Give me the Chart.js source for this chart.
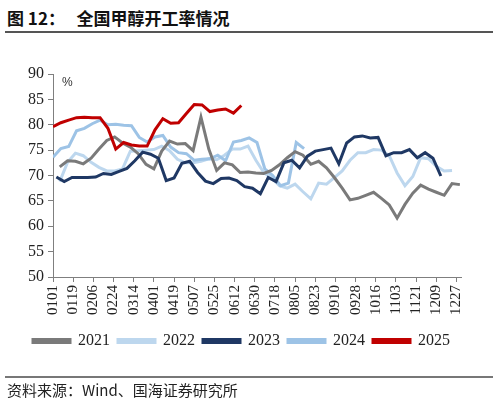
<!DOCTYPE html>
<html>
<head>
<meta charset="utf-8">
<script src="https://cdn.jsdelivr.net/npm/chart.js@4/dist/chart.umd.min.js"></script>
<style>
  body { margin: 0; width: 499px; height: 403px; background: #fff; position: relative; overflow: hidden; }
  #title { position: absolute; left: 7px; top: 5px; font: bold 17px 'Noto Sans CJK SC', sans-serif; color: #111; white-space: pre; }
  .rule { position: absolute; left: 5px; width: 488px; height: 1.5px; background: #555; }
  #source { position: absolute; left: 7px; top: 379px; font: 15px 'Noto Sans CJK SC', sans-serif; color: #222; }
  #unit { position: absolute; left: 62px; top: 75px; font: 12px 'Liberation Sans', sans-serif; color: #333; }
  #wrap { position: absolute; left: 0; top: 0; width: 499px; height: 403px; }
</style>
</head>
<body>
<div id="title">图 12：   全国甲醇开工率情况</div>
<div class="rule" style="top:31px"></div>
<div id="wrap"><canvas id="rateChart"></canvas></div>
<div id="unit">%</div>
<div class="rule" style="top:376px;background:#777"></div>
<div id="source">资料来源：Wind、国海证券研究所</div>
<script>
// x轴刻度 (日序, 0 = 0101)
const tickDays = [0, 18, 36, 54, 72, 90, 108, 126, 144, 162, 180, 198, 216, 234, 252, 270, 288, 306, 324, 342, 360]
const tickLabels = ['0101', '0119', '0206', '0224', '0314', '0401', '0419', '0507', '0525', '0612', '0630',
	'0718', '0805', '0823', '0910', '0928', '1016', '1103', '1121', '1209', '1227']

// 每周数据, 第一周的日序
const years = ['2021', '2022', '2023', '2024', '2025']
const firstDay = [6, 6, 3, 0, 0]

const rate2021 = [71.7, 72.9, 72.8, 72.3, 73.4, 75.2, 76.9, 77.6, 76.4, 75.6, 74.3, 72.2, 71.3, 74.8, 76.8, 76.2,
	76.3, 74.9, 81.5, 75.2, 71.0, 72.5, 72.1, 70.6, 70.7, 70.5, 70.4, 71.0, 72.1, 73.5, 74.7, 74.0, 72.2, 72.8,
	71.5, 69.6, 67.5, 65.2, 65.5, 66.1, 66.7, 65.5, 64.2, 61.6, 64.3, 66.5, 68.1, 67.3, 66.7, 66.1, 68.4, 68.2]
const rate2022 = [68.8, 72.6, 74.4, 73.9, 72.6, 71.6, 70.9, 70.9, 71.3, 74.8, 74.9, 75.0, 75.1, 75.8, 74.9, 73.2,
	72.5, 72.5, 72.8, 73.3, 73.1, 74.0, 75.2, 75.2, 75.8, 73.0, 70.6, 69.5, 68.0, 67.5, 68.3, 66.8, 65.4, 68.5,
	68.3, 69.6, 70.9, 73.0, 74.5, 74.5, 75.1, 75.0, 73.9, 70.5, 68.0, 69.8, 73.5, 73.3, 71.8, 70.9, 71.0]
const rate2023 = [69.7, 68.8, 69.6, 69.6, 69.6, 69.7, 70.4, 70.2, 70.8, 71.4, 72.9, 74.6, 74.2, 73.4, 69.0, 69.5,
	72.4, 72.8, 70.6, 68.9, 68.4, 69.4, 69.5, 69.0, 67.8, 67.5, 66.4, 69.6, 68.8, 72.5, 73.0, 71.5, 73.8, 74.8,
	75.1, 75.4, 72.3, 76.4, 77.6, 77.8, 77.4, 77.5, 73.9, 74.5, 74.5, 75.1, 73.5, 74.5, 73.4, 69.9]
const rate2024 = [73.6, 75.3, 75.7, 78.8, 79.3, 80.2, 80.9, 80.0, 80.1, 79.9, 79.8, 77.5, 76.6, 77.6, 77.9, 75.6,
	74.5, 74.3, 73.0, 73.2, 73.3, 74.0, 72.9, 76.6, 76.9, 77.4, 76.5, 71.3, 70.0, 68.0, 68.5, 76.5, 75.3]
const rate2025 = [79.6, 80.4, 80.9, 81.4, 81.5, 81.4, 81.4, 79.3, 75.2, 76.5, 76.0, 75.8, 75.8, 79.0, 81.2, 80.3,
	80.4, 82.2, 84.0, 83.9, 82.6, 82.9, 83.1, 82.3, 83.8]

const colors = ['#7a7a7a', '#bdd7ee', '#1f3864', '#9dc3e6', '#c00000']
const drawOrder = [2, 4, 1, 3, 0]

const allRates = [rate2021, rate2022, rate2023, rate2024, rate2025]
const toPoints = (vals, start) => vals.map((v, i) => ({ x: start + 7 * i, y: v }))

const ctx = document.getElementById('rateChart').getContext('2d')
const myChart = new Chart(ctx, {
	type: 'line',
	data: {
		datasets: years.map((y, k) => ({
			label: y,
			data: toPoints(allRates[k], firstDay[k]),
			borderColor: colors[k],
			backgroundColor: colors[k],
			borderWidth: 3,
			pointRadius: 0,
			tension: 0,
			order: drawOrder[k],
		})),
	},
	options: {
		responsive: true,
		maintainAspectRatio: false,
		animation: false,
		layout: { padding: { left: 0, right: 16, top: 74, bottom: 44 } },
		plugins: {
			legend: {
				position: 'bottom',
				labels: {
					boxWidth: 37,
					boxHeight: 3,
					padding: 8,
					color: '#222',
					font: { family: 'Liberation Serif', size: 16 },
					sort: (a, b) => a.datasetIndex - b.datasetIndex,
				},
			},
			tooltip: { enabled: false },
		},
		scales: {
			x: {
				type: 'linear',
				min: 0,
				max: 364,
				afterBuildTicks: scale => { scale.ticks = tickDays.map(v => ({ value: v })) },
				afterFit: scale => { scale.height = 48 },
				grid: { drawOnChartArea: false, tickLength: 5, color: '#7f7f7f' },
				border: { color: '#7f7f7f', width: 1 },
				ticks: {
					autoSkip: false,
					minRotation: 90,
					maxRotation: 90,
					padding: 3,
					color: '#222',
					font: { family: 'Liberation Serif', size: 15 },
					callback: v => tickLabels[tickDays.indexOf(v)],
				},
			},
			y: {
				min: 50,
				max: 90,
				afterFit: scale => { scale.width = 53 },
				grid: { drawOnChartArea: false, tickLength: 5, color: '#7f7f7f' },
				border: { color: '#7f7f7f', width: 1 },
				ticks: {
					stepSize: 5,
					padding: 4,
					color: '#222',
					font: { family: 'Liberation Serif', size: 16 },
				},
			},
			y2: {
				position: 'right',
				afterFit: scale => { scale.width = 22 },
				grid: { display: false },
				border: { display: false },
				ticks: { display: false },
			},
		},
	},
})
</script>
</body>
</html>
